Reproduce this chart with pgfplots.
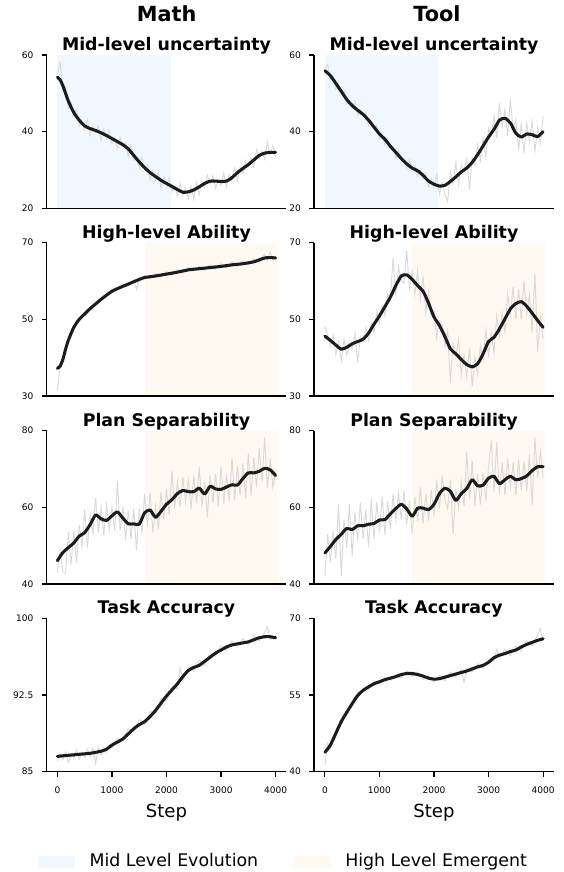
\documentclass[border=0pt]{standalone}
\usepackage{pgfplots}
\pgfplotsset{compat=1.18}
\usepackage{fontspec}
\setmainfont{DejaVu Sans}
\definecolor{midc}{RGB}{241,247,255}
\definecolor{highc}{RGB}{255,249,241}
\definecolor{rawc}{RGB}{218,218,218}
\definecolor{smc}{RGB}{28,28,28}
\pgfplotsset{
 every axis title shift=0pt,
 panel/.style={scale only axis, width=172.8pt, height=110.4pt, xmin=-200, xmax=4200,
   axis x line*=bottom, axis y line*=left, axis line style={line width=1.1pt, black},
   every tick/.style={black, line width=0.8pt}, major tick length=3.5pt, tick align=outside,
   xtick=\empty, ticklabel style={font=\fontsize{6.5}{7}\selectfont},
   yticklabel style={xshift=-2.5pt},
   title style={font=\bfseries\fontsize{12.5}{14}\selectfont, at={(0.5,1)}, anchor=base, yshift=3.2pt},
   /pgf/number format/assume math mode=true, axis on top},
 bottomrow/.style={xtick={0,1000,2000,3000,4000}, xticklabels={0,1000,2000,3000,4000},
   xticklabel style={yshift=-4pt}, xlabel={Step},
   xlabel style={at={(axis description cs:0.5,0)}, anchor=base, yshift=-33.3pt, font=\fontsize{13}{15}\selectfont}},
 raw/.style={rawc, line width=0.7pt, forget plot},
 sm/.style={smc, line width=2.2pt, smooth, tension=0.4, line join=round, line cap=round, forget plot},
 shade/.style={draw=none, forget plot}
}
\begin{document}
\begin{tikzpicture}
\useasboundingbox (0,0) rectangle (406.08pt,-627.84pt);
\node[anchor=base, font=\bfseries\fontsize{15}{17}\selectfont] at (119.95pt,-15.6pt) {Math};
\node[anchor=base, font=\bfseries\fontsize{15}{17}\selectfont] at (314.6pt,-15.6pt) {Tool};

% ---------- Row 1: Mid-level uncertainty ----------
\begin{axis}[panel, at={(33.48pt,-39.6pt)}, anchor=north west, title={Mid-level uncertainty},
  ymin=20, ymax=60, ytick={20,40,60}, yticklabels={20,40,60}]
\addplot[shade, fill=midc] coordinates {(0,20) (2075,20) (2075,60) (0,60)} -- cycle;
\addplot[raw] coordinates {
(0,55.0)(50,58.0)(100,50.8)(150,51.6)(200,46.0)(250,47.5)(300,44.4)(350,45.8)(400,41.4)(450,42.6)
(500,40.5)(550,43.1)(600,39.0)(650,41.4)(700,39.9)(750,41.4)(800,37.7)(850,40.6)(900,38.2)(950,40.4)
(1000,36.8)(1050,38.4)(1100,35.6)(1150,38.6)(1200,36.2)(1250,37.1)(1300,33.5)(1350,36.5)(1400,32.6)(1450,33.2)
(1500,30.5)(1550,33.4)(1600,30.0)(1650,31.2)(1700,27.5)(1750,29.6)(1800,27.3)(1850,29.4)(1900,25.3)(1950,28.3)
(2000,26.1)(2050,27.9)(2100,24.3)(2150,25.9)(2200,23.3)(2250,26.5)(2300,23.4)(2350,25.3)(2400,22.5)(2450,25.8)
(2500,22.3)(2550,26.8)(2600,23.6)(2650,26.9)(2700,25.3)(2750,28.6)(2800,26.5)(2850,28.5)(2900,25.3)(2950,27.5)
(3000,26.0)(3050,29.1)(3100,25.5)(3150,28.8)(3200,27.2)(3250,30.5)(3300,27.3)(3350,30.5)(3400,29.0)(3450,32.5)
(3500,31.0)(3550,33.2)(3600,30.8)(3650,35.2)(3700,32.8)(3750,34.9)(3800,32.8)(3850,37.3)(3900,34.0)(3950,36.4)
(4000,33.4)};
\addplot[sm] coordinates {
(0,54.2)(50,53.5)(100,52)(200,48)(300,45)(400,43)(500,41.5)(600,40.8)(700,40.3)(800,39.7)(900,39)
(1000,38.2)(1100,37.4)(1200,36.6)(1300,35.5)(1400,33.8)(1500,32.1)(1600,30.6)(1700,29.3)(1800,28.3)(1900,27.3)
(2000,26.5)(2100,25.7)(2200,24.9)(2300,24.2)(2400,24.3)(2500,24.8)(2600,25.6)(2700,26.5)(2800,27.1)(2900,27.1)
(3000,27)(3100,27.1)(3200,28)(3300,29.3)(3400,30.4)(3500,31.4)(3600,32.6)(3700,33.8)(3800,34.4)(3900,34.6)(4000,34.6)};
\end{axis}

\begin{axis}[panel, at={(226.08pt,-39.6pt)}, anchor=north west, title={Mid-level uncertainty},
  ymin=20, ymax=60, ytick={20,40,60}, yticklabels={20,40,60}]
\addplot[shade, fill=midc] coordinates {(0,20) (2075,20) (2075,60) (0,60)} -- cycle;
\addplot[raw] coordinates {
(0,56.4)(50,57.6)(100,53.7)(150,54.8)(200,51.1)(250,52.4)(300,50.0)(350,50.9)(400,47.2)(450,47.9)
(500,46.0)(550,47.7)(600,44.2)(650,45.7)(700,44.2)(750,44.9)(800,41.5)(850,43.0)(900,40.6)(950,41.7)
(1000,38.3)(1050,39.2)(1100,36.6)(1150,38.3)(1200,35.9)(1250,36.2)(1300,33.1)(1350,35.2)(1400,32.1)(1450,32.5)
(1500,30.4)(1550,32.6)(1600,30.0)(1650,31.1)(1700,28.4)(1750,29.8)(1800,27.8)(1850,29.1)(1900,25.6)(1950,27.8)
(2000,25.7)(2050,28.8)(2100,23.7)(2150,26.8)(2200,23.6)(2250,21.8)(2300,29.4)(2350,26.4)(2400,32.0)(2450,26.2)
(2500,31.3)(2550,29.7)(2600,32.9)(2650,25.0)(2700,33.2)(2750,31.2)(2800,36.7)(2850,32.5)(2900,38.3)(2950,33.5)
(3000,40.8)(3050,39.1)(3100,44.2)(3150,38.3)(3200,47.5)(3250,41.4)(3300,45.7)(3350,38.9)(3400,48.5)(3450,40.4)
(3500,43.2)(3550,35.2)(3600,42.2)(3650,34.5)(3700,42.1)(3750,37.5)(3800,42.7)(3850,34.9)(3900,40.9)(3950,37.0)
(4000,44.0)};
\addplot[sm] coordinates {
(0,55.9)(100,54.6)(200,52.6)(300,50.5)(400,48.4)(500,46.8)(600,45.6)(700,44.5)(800,43)(900,41.2)
(1000,39.4)(1100,38)(1200,36.2)(1300,34.6)(1400,33)(1500,31.6)(1600,30.5)(1700,29.8)(1800,28.6)(1900,27.1)
(2000,26.3)(2100,25.8)(2200,26)(2300,27)(2400,28.2)(2500,29.5)(2600,30.5)(2700,32)(2800,34)(2900,36.3)
(3000,38.6)(3100,40.6)(3200,43)(3300,43.5)(3400,42.3)(3500,39.6)(3600,38.6)(3700,39.4)(3800,39.2)(3900,38.7)(4000,40)};
\end{axis}

% ---------- Row 2: High-level Ability ----------
\begin{axis}[panel, at={(33.48pt,-174.7pt)}, anchor=north west, title={High-level Ability},
  ymin=30, ymax=70, ytick={30,50,70}, yticklabels={30,50,70}]
\addplot[shade, fill=highc] coordinates {(1600,30) (4030,30) (4030,70) (1600,70)} -- cycle;
\addplot[raw] coordinates {
(0,31.5)(50,37.5)(100,39.2)(200,44.8)(300,47.6)(400,50.4)(500,51.0)(600,53.2)(700,53.6)(800,55.7)
(900,55.9)(1000,57.8)(1100,57.6)(1200,59.1)(1300,58.7)(1400,60.4)(1450,57.8)(1500,60.2)(1600,61.4)(1700,60.7)
(1800,61.9)(1900,61.0)(2000,62.4)(2100,61.5)(2200,62.9)(2300,62.0)(2400,63.5)(2500,62.6)(2600,63.8)(2700,62.8)
(2800,64.2)(2900,63.1)(3000,64.5)(3100,63.4)(3200,65.0)(3300,63.8)(3400,65.3)(3500,64.1)(3600,65.8)(3700,64.9)
(3800,67.0)(3850,65.4)(3900,67.5)(3950,65.6)(4000,66.3)};
\addplot[sm] coordinates {
(0,37.2)(50,37.8)(100,39.5)(150,42.2)(200,44.5)(300,47.9)(400,50.0)(500,51.4)(600,52.8)(700,54.0)(800,55.2)
(900,56.3)(1000,57.3)(1100,58.0)(1200,58.6)(1300,59.2)(1400,59.8)(1500,60.4)(1600,60.9)(1800,61.3)(2000,61.8)
(2200,62.3)(2400,62.9)(2600,63.2)(2800,63.5)(3000,63.8)(3200,64.2)(3400,64.5)(3600,65.0)(3700,65.5)(3800,66.0)(3900,66.1)(4000,66.0)};
\end{axis}

\begin{axis}[panel, at={(226.08pt,-174.7pt)}, anchor=north west, title={High-level Ability},
  ymin=30, ymax=70, ytick={30,50,70}, yticklabels={30,50,70}]
\addplot[shade, fill=highc] coordinates {(1600,30) (4030,30) (4030,70) (1600,70)} -- cycle;
\addplot[raw] coordinates {
(0,48.1)(50,46.0)(100,43.0)(150,45.9)(200,40.8)(250,44.0)(300,39.2)(350,44.7)(400,40.7)(450,43.6)
(500,42.4)(550,46.4)(600,38.8)(650,45.5)(700,44.3)(750,47.8)(800,44.4)(850,49.0)(900,46.5)(950,52.0)
(1000,49.1)(1050,53.3)(1100,50.9)(1150,56.6)(1200,55.3)(1250,66.0)(1300,56.3)(1350,63.6)(1400,60.1)(1450,59.4)
(1500,67.8)(1550,58.0)(1600,62.4)(1650,56.4)(1700,62.6)(1750,55.1)(1800,61.3)(1850,51.8)(1900,57.2)(1950,51.2)
(2000,52.1)(2050,45.3)(2100,49.6)(2150,48.6)(2200,43.0)(2250,46.9)(2300,33.5)(2350,43.6)(2400,40.0)(2450,44.8)
(2500,35.5)(2550,40.9)(2600,34.7)(2650,42.4)(2700,32.6)(2750,40.0)(2800,35.4)(2850,43.2)(2900,39.5)(2950,47.1)
(3000,40.7)(3050,46.3)(3100,41.3)(3150,50.9)(3200,45.5)(3250,51.8)(3300,46.6)(3350,56.4)(3400,51.2)(3450,58.4)
(3500,50.1)(3550,57.9)(3600,50.1)(3650,60.0)(3700,51.4)(3750,56.5)(3800,46.6)(3850,62.0)(3900,41.5)(3950,50.5)
(4000,44.9)};
\addplot[sm] coordinates {
(0,45.6)(100,44.5)(200,43.3)(300,42.2)(400,42.7)(500,43.6)(600,44.2)(700,44.8)(800,46.4)(900,48.7)
(1000,50.9)(1100,53.3)(1200,55.8)(1300,58.8)(1400,61.3)(1500,61.6)(1600,60.4)(1700,58.8)(1800,57.3)(1900,54.2)
(2000,50.6)(2100,48.4)(2200,45.5)(2300,42.3)(2400,41)(2500,39.5)(2600,38.2)(2700,37.6)(2800,38.4)(2900,41)
(3000,44.2)(3100,45.3)(3200,47.5)(3300,50.1)(3400,52.7)(3500,54.1)(3600,54.6)(3700,53.4)(3800,51.6)(3900,49.7)(4000,47.9)};
\end{axis}

% ---------- Row 3: Plan Separability ----------
\begin{axis}[panel, at={(33.48pt,-310.1pt)}, anchor=north west, title={Plan Separability},
  ymin=40, ymax=80, ytick={40,60,80}, yticklabels={40,60,80}]
\addplot[shade, fill=highc] coordinates {(1600,40) (4030,40) (4030,80) (1600,80)} -- cycle;
\addplot[raw] coordinates {
(0,43.0)(50,48.6)(100,43.2)(150,42.8)(200,53.5)(250,45.1)(300,53.7)(350,45.6)(400,55.5)(450,49.9)
(500,59.4)(550,49.5)(600,58.5)(650,52.8)(700,62.5)(750,53.5)(800,60.0)(850,52.8)(900,60.6)(950,54.2)
(1000,60.3)(1050,53.8)(1100,66.8)(1150,54.0)(1200,60.2)(1250,51.5)(1300,59.2)(1350,51.7)(1400,59.7)(1450,48.7)
(1500,59.6)(1550,53.1)(1600,63.6)(1650,55.0)(1700,63.8)(1750,53.4)(1800,60.4)(1850,54.2)(1900,64.0)(1950,56.9)
(2000,64.8)(2050,57.9)(2100,69.5)(2150,59.8)(2200,66.6)(2250,60.0)(2300,67.9)(2350,61.3)(2400,67.1)(2450,59.6)
(2500,68.1)(2550,61.1)(2600,70.5)(2650,60.3)(2700,66.5)(2750,57.5)(2800,68.5)(2850,61.2)(2900,68.8)(2950,60.3)
(3000,70.7)(3050,61.0)(3100,68.8)(3150,61.6)(3200,72.9)(3250,61.9)(3300,70.8)(3350,63.2)(3400,71.5)(3450,62.3)
(3500,74.0)(3550,63.0)(3600,73.0)(3650,65.2)(3700,75.4)(3750,66.8)(3800,78.2)(3850,65.0)(3900,72.8)(3950,65.1)
(4000,69.3)};
\addplot[sm] coordinates {
(0,46.1)(100,48.2)(200,49.5)(300,50.7)(400,52.5)(500,53.4)(600,55.5)(700,58.0)(800,57.0)(900,56.6)
(1000,57.8)(1100,58.8)(1200,57.2)(1300,55.7)(1400,55.7)(1500,55.6)(1600,58.6)(1700,59.3)(1800,57.4)(1900,59.0)
(2000,60.8)(2100,62.0)(2200,63.6)(2300,64.4)(2400,64.1)(2500,64.1)(2600,65.0)(2700,63.5)(2800,65.5)(2900,64.8)
(3000,64.7)(3100,65.3)(3200,65.9)(3300,65.8)(3400,67.5)(3500,69.0)(3600,69.0)(3700,69.4)(3800,70.2)(3900,69.8)(4000,68.3)};
\end{axis}

\begin{axis}[panel, at={(226.08pt,-310.1pt)}, anchor=north west, title={Plan Separability},
  ymin=40, ymax=80, ytick={40,60,80}, yticklabels={40,60,80}]
\addplot[shade, fill=highc] coordinates {(1600,40) (4030,40) (4030,80) (1600,80)} -- cycle;
\addplot[raw] coordinates {
(0,42.0)(50,53.0)(100,45.8)(150,53.7)(200,46.6)(250,61.0)(300,42.0)(350,56.8)(400,49.5)(450,60.9)
(500,47.2)(550,58.7)(600,51.2)(650,61.2)(700,51.7)(750,59.4)(800,49.6)(850,62.2)(900,51.8)(950,61.3)
(1000,53.7)(1050,62.8)(1100,52.8)(1150,61.6)(1200,54.3)(1250,63.5)(1300,56.7)(1350,63.8)(1400,56.8)(1450,64.2)
(1500,55.6)(1550,61.7)(1600,53.2)(1650,62.8)(1700,56.3)(1750,65.3)(1800,55.8)(1850,63.6)(1900,56.4)(1950,64.6)
(2000,57.8)(2050,67.2)(2100,59.6)(2150,68.3)(2200,62.0)(2250,59.6)(2300,67.2)(2350,53.0)(2400,64.8)(2450,59.7)
(2500,66.6)(2550,60.3)(2600,74.4)(2650,62.1)(2700,72.2)(2750,60.4)(2800,68.6)(2850,60.7)(2900,69.0)(2950,61.7)
(3000,70.6)(3050,77.5)(3100,64.1)(3150,77.0)(3200,63.2)(3250,71.7)(3300,63.2)(3350,72.7)(3400,65.1)(3450,71.7)
(3500,63.2)(3550,72.4)(3600,64.5)(3650,71.9)(3700,64.2)(3750,73.9)(3800,60.5)(3850,78.1)(3900,67.6)(3950,74.6)
(4000,67.6)};
\addplot[sm] coordinates {
(0,48.1)(100,49.8)(200,51.6)(300,53.0)(400,54.5)(500,54.2)(600,55.2)(700,55.2)(800,55.6)(900,55.8)
(1000,56.7)(1100,56.8)(1200,58.3)(1300,59.7)(1400,60.8)(1500,59.6)(1600,57.7)(1700,59.8)(1800,59.8)(1900,59.4)
(2000,60.8)(2100,63.6)(2200,65.0)(2300,64.2)(2400,61.8)(2500,63.6)(2600,64.9)(2700,67.2)(2800,65.6)(2900,65.8)
(3000,67.6)(3100,68.1)(3200,66.2)(3300,67.2)(3400,68.1)(3500,67.2)(3600,67.5)(3700,68.2)(3800,69.6)(3900,70.6)(4000,70.6)};
\end{axis}

% ---------- Row 4: Task Accuracy ----------
\begin{axis}[panel, bottomrow, at={(33.48pt,-445.2pt)}, anchor=north west, title={Task Accuracy},
  ymin=85, ymax=100, ytick={85,92.5,100}, yticklabels={85,92.5,100}]
\addplot[raw] coordinates {
(0,86.0)(50,86.7)(100,86.2)(150,86.9)(200,85.9)(250,86.8)(300,86.3)(350,87.1)(400,86.2)(450,86.9)
(500,86.4)(550,87.2)(600,86.5)(650,87.3)(700,85.8)(750,87.4)(800,86.6)(850,87.3)(900,86.9)(950,87.6)
(1000,87.3)(1100,88.3)(1200,88.0)(1300,89.2)(1400,88.9)(1500,90.1)(1600,89.6)(1700,90.9)(1800,90.6)(1900,92.2)
(2000,91.9)(2100,93.3)(2200,93.1)(2250,95.2)(2300,94.0)(2400,95.2)(2500,94.8)(2600,95.9)(2700,95.4)(2800,96.6)
(2900,96.3)(3000,97.3)(3100,96.9)(3200,97.8)(3300,97.2)(3400,98.0)(3500,97.4)(3600,98.3)(3700,97.8)(3800,98.6)
(3850,99.2)(3900,97.9)(4000,98.3)};
\addplot[sm] coordinates {
(0,86.5)(200,86.6)(400,86.7)(600,86.8)(800,87.0)(900,87.2)(1000,87.6)(1100,87.9)(1200,88.2)(1300,88.7)
(1400,89.2)(1500,89.6)(1600,89.9)(1700,90.4)(1800,91.0)(1900,91.7)(2000,92.4)(2100,93.0)(2200,93.6)(2300,94.3)
(2400,94.9)(2500,95.2)(2600,95.4)(2700,95.8)(2800,96.2)(2900,96.6)(3000,96.9)(3100,97.2)(3200,97.4)(3300,97.5)
(3400,97.6)(3500,97.7)(3600,97.9)(3700,98.1)(3800,98.2)(3900,98.2)(4000,98.1)};
\end{axis}

\begin{axis}[panel, bottomrow, at={(226.08pt,-445.2pt)}, anchor=north west, title={Task Accuracy},
  ymin=40, ymax=70, ytick={40,55,70}, yticklabels={40,55,70}]
\addplot[raw] coordinates {
(0,41.3)(50,45.5)(100,44.7)(200,47.8)(300,50.3)(400,51.2)(500,53.8)(600,54.4)(700,56.4)(800,56.1)
(900,57.7)(1000,57.2)(1100,58.4)(1200,57.9)(1300,58.9)(1400,58.3)(1500,59.7)(1600,58.6)(1700,59.5)(1800,58.0)
(1900,58.8)(2000,57.5)(2100,58.8)(2200,57.8)(2300,59.5)(2400,58.5)(2500,60.0)(2550,57.6)(2600,60.2)(2700,59.5)
(2800,61.1)(2900,60.2)(3000,61.9)(3100,61.6)(3150,64.0)(3200,62.3)(3300,63.9)(3400,62.8)(3500,64.6)(3600,63.6)
(3700,65.6)(3800,64.6)(3900,66.8)(3950,68.0)(4000,65.5)};
\addplot[sm] coordinates {
(0,43.8)(100,45.2)(200,47.5)(300,49.8)(400,51.6)(500,53.3)(600,54.9)(700,55.9)(800,56.6)(900,57.2)
(1000,57.6)(1100,58.0)(1200,58.3)(1300,58.6)(1400,59.0)(1500,59.2)(1600,59.2)(1700,59.0)(1800,58.7)(1900,58.3)
(2000,58.1)(2100,58.2)(2200,58.5)(2300,58.8)(2400,59.1)(2500,59.4)(2600,59.7)(2700,60.1)(2800,60.5)(2900,60.8)
(3000,61.4)(3100,62.3)(3200,62.8)(3300,63.1)(3400,63.5)(3500,63.8)(3600,64.4)(3700,64.9)(3800,65.3)(3900,65.7)(4000,66.0)};
\end{axis}

% ---------- Legend ----------
\fill[midc] (27.6pt,-616.1pt) rectangle (54.0pt,-624.7pt);
\node[anchor=base west, inner sep=0pt, font=\fontsize{12.5}{14}\selectfont] at (64.3pt,-624.0pt) {Mid Level Evolution};
\fill[highc] (211.2pt,-616.1pt) rectangle (237.6pt,-624.7pt);
\node[anchor=base west, inner sep=0pt, font=\fontsize{12.5}{14}\selectfont] at (248.4pt,-624.0pt) {High Level Emergent};
\end{tikzpicture}
\end{document}
